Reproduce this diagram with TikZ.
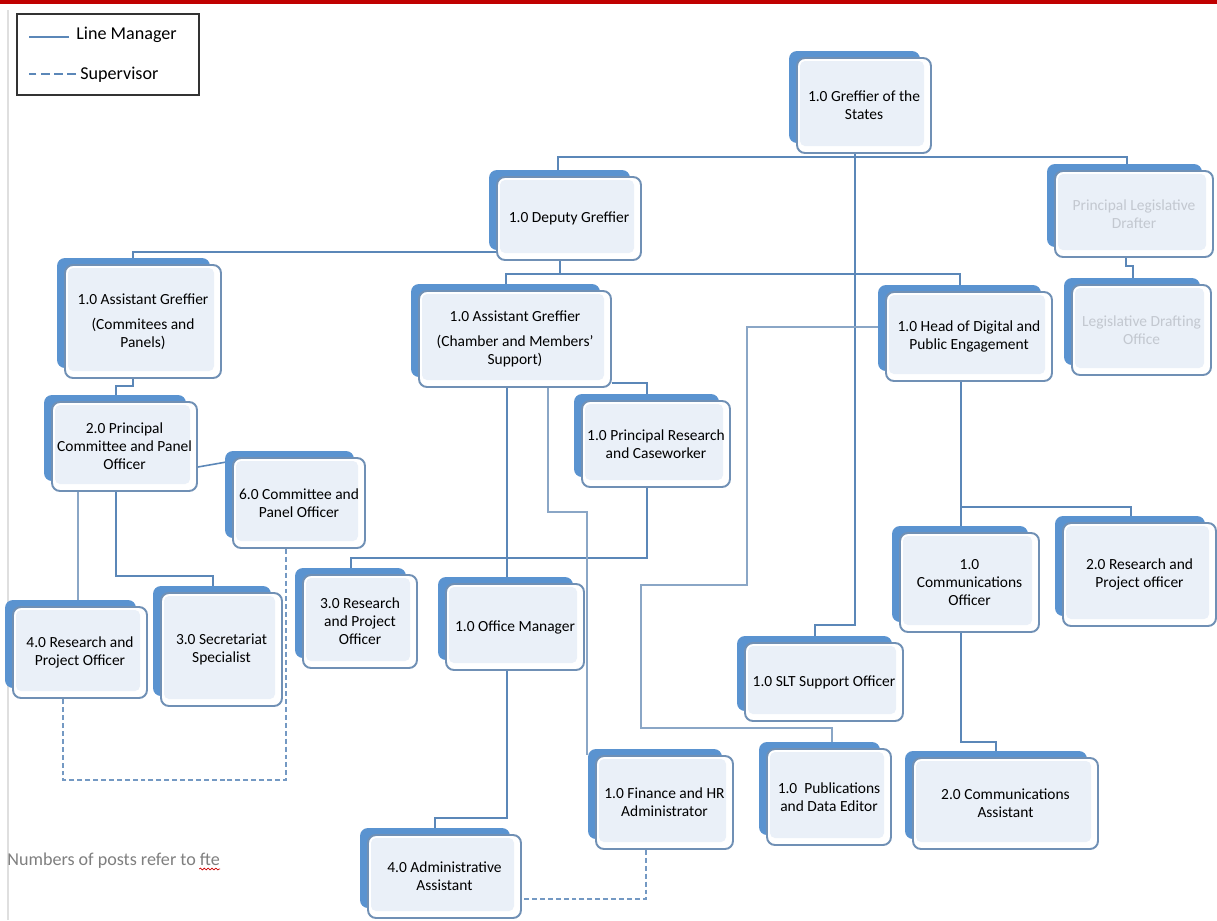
\documentclass[tikz,border=0pt]{standalone}
\usepackage{fontspec}
\setmainfont{Carlito}
\usetikzlibrary{calc,decorations.pathmorphing}
\pgfdeclarelayer{background}
\pgfsetlayers{background,main}
\definecolor{backblue}{HTML}{5A93D0}
\definecolor{frontline}{HTML}{7090B5}
\definecolor{innerfill}{HTML}{EAF0F8}
\definecolor{linkblue}{HTML}{5B87B8}
\definecolor{thinblue}{HTML}{8AA6C6}
\definecolor{fadetext}{HTML}{C3C8D0}
\definecolor{topred}{HTML}{C00000}
\definecolor{notegray}{HTML}{7F7F7F}
\newcommand\boxfont{\fontsize{8.8pt}{10.2pt}\selectfont}
\newcommand\legfont{\fontsize{10.3pt}{12pt}\selectfont}
\tikzset{
  frontbox/.style={draw=frontline, line width=1.1pt, rounded corners=0.16cm,
    inner sep=0pt, align=center, font=\boxfont, text=black},
  lm/.style={draw=linkblue, line width=1.4pt},
  thinlink/.style={draw=thinblue, line width=0.6pt},
  sup/.style={draw=linkblue!85, line width=0.7pt, dash pattern=on 2.8pt off 1.7pt},
  legdash/.style={draw=linkblue, line width=1.4pt, dash pattern=on 5pt off 2.5pt},
}
% #1 extra node style, #2 name, #3 x1, #4 y1, #5 x2, #6 y2, #7 text
\newcommand\obox[7][]{%
  \fill[backblue,rounded corners=0.16cm] ({#3-8},{#4-7}) rectangle ({#5-11},{#6-10});
  \fill[white,rounded corners=0.16cm] (#3,#4) rectangle (#5,#6);
  \fill[innerfill,rounded corners=0.1cm] ({#3+3},{#4+3}) rectangle ({#5-7},{#6-7});
  \node[frontbox,#1,minimum width={(#5-#3)*0.02cm},minimum height={(#6-#4)*0.02cm}]
    (#2) at ({(#3+#5)/2},{(#4+#6)/2}) {#7};
}
\begin{document}
\begin{tikzpicture}[x=0.02cm,y=-0.02cm]
\useasboundingbox (0,0) rectangle (1217,920);
\begin{pgfonlayer}{background}
\fill[white] (0,0) rectangle (1217,920);
\draw[gray!25, line width=0.6pt] (8,10) -- (8,920);
\end{pgfonlayer}
\fill[topred] (0,0) rectangle (1217,4);

% legend
\node[draw=black!80, line width=0.6pt, minimum width=3.64cm, minimum height=1.62cm, inner sep=0pt] (legend) at (108,54.5) {};
\node[anchor=base west, font=\legfont, inner sep=0pt] (lmtxt) at (76,39) {Line Manager};
\node[anchor=base west, font=\legfont, inner sep=0pt] (suptxt) at (80,79) {Supervisor};
\draw[lm, line width=1.5pt] ($(lmtxt.base west)+(-7,-2)$) -- ++(-40,0);
\draw[legdash] ($(suptxt.base west)+(-4,-5)$) -- ++(-47,0);

% boxes
\obox{gs}{797}{58}{931}{153}{1.0 Greffier of the\\States}
\obox{dep}{497}{177}{641}{260}{1.0 Deputy Greffier}
\obox[text=fadetext]{ld}{1055}{171}{1213}{257}{Principal Legislative\\Drafter}
\obox[text=fadetext]{ldo}{1072}{285}{1211}{375}{Legislative Drafting\\Office}
\obox{hd}{886}{292}{1052}{381}{1.0 Head of Digital and\\Public Engagement}
\obox{agc}{65}{265}{221}{378}{1.0 Assistant Greffier\\[0.14cm](Commitees and\\Panels)}
\obox{agm}{419}{291}{611}{387}{1.0 Assistant Greffier\\[0.14cm](Chamber and Members'\\Support)}
\obox{pcpo}{52}{402}{197}{491}{2.0 Principal\\Committee and Panel\\Officer}
\obox{cpo}{233}{458}{365}{548}{6.0 Committee and\\Panel Officer}
\obox{pr}{582}{401}{730}{487}{1.0 Principal Research\\and Caseworker}
\obox{rpofour}{13}{607}{147}{698}{4.0 Research and\\Project Officer}
\obox{ss}{161}{593}{282}{706}{3.0 Secretariat\\Specialist}
\obox{rpothree}{303}{575}{417}{668}{3.0 Research\\and Project\\Officer}
\obox{om}{446}{584}{584}{670}{1.0 Office Manager}
\obox{co}{900}{533}{1039}{632}{1.0\\Communications\\Officer}
\obox{rpotwo}{1063}{523}{1216}{626}{2.0 Research and\\Project officer}
\obox{slt}{745}{643}{903}{721}{1.0 SLT Support Officer}
\obox{fin}{596}{756}{733}{849}{1.0 Finance and HR\\Administrator}
\obox{pub}{767}{749}{891}{845}{1.0\ \ Publications\\and Data Editor}
\obox{ca}{913}{758}{1098}{849}{2.0 Communications\\Assistant}
\obox{aa}{368}{835}{521}{918}{4.0 Administrative\\Assistant}

% note
\node[anchor=base west, font=\legfont, text=notegray, inner sep=0pt] (note) at (7,865) {Numbers of posts refer to fte};
\draw[red!80!black, line width=0.4pt, decorate, decoration={snake, amplitude=0.5pt, segment length=2.2pt}]
  ($(note.base east)+(-21,4)$) -- ($(note.base east)+(0,4)$);

% junctions
\coordinate (depjoin) at (560,274);
\coordinate (hdjoin) at (961,507);
\coordinate (gsjoin) at (855,157);

% connectors
\begin{pgfonlayer}{background}
\draw[lm] (gs.south -| 855,0) -- (gsjoin);
\draw[lm] (gsjoin) -- (855,625) -- (815,625) -- (slt.north -| 815,0);
\draw[lm] (dep.north -| 558,0) -- (558,157) -- (1127,157) -- (ld.north -| 1127,0);
\draw[lm] (dep.west |- 0,252) -- (133,252) -- (agc.north -| 133,0);
\draw[lm] (dep.south -| 560,0) -- (depjoin);
\draw[lm] (agm.north -| 506,0) -- (506,274) -- (960,274) -- (hd.north -| 960,0);
\draw[lm] (ld.south -| 1126,0) -- (1126,266) -- (1133,266) -- (ldo.north -| 1133,0);
\draw[lm] (agc.south -| 133,0) -- (133,386) -- (116,386) -- (pcpo.north -| 116,0);
\draw[lm, line width=0.9pt] (pcpo.east |- 0,467) -- (cpo.west |- 0,461);
\draw[thinlink] (pcpo.south -| 78,0) -- (rpofour.north -| 78,0);
\draw[lm] (pcpo.south -| 116,0) -- (116,576) -- (213,576) -- (ss.north -| 213,0);
\draw[sup] (cpo.south -| 286,0) -- (286,780) -- (63,780) -- (rpofour.south -| 63,0);
\draw[lm] (agm.east |- 0,383) -- (647,383) -- (pr.north -| 647,0);
\draw[lm] (pr.south -| 647,0) -- (647,558) -- (351,558) -- (rpothree.north -| 351,0);
\draw[lm] (agm.south -| 507,0) -- (om.north -| 507,0);
\draw[thinlink] (agm.south -| 548,0) -- (548,512) -- (587,512) -- (fin.north -| 587,0);
\draw[lm] (om.south -| 507,0) -- (507,818) -- (435,818) -- (aa.north -| 435,0);
\draw[sup] (fin.south -| 646,0) -- (646,899) -- (aa.east |- 0,899);
\draw[thinlink] (hd.west |- 0,327) -- (747,327) -- (747,585) -- (641,585) -- (641,728) -- (832,728) -- (pub.north -| 832,0);
\draw[lm] (hd.south -| 961,0) -- (co.north -| 961,0);
\draw[lm] (hdjoin) -- (1131,507) -- (rpotwo.north -| 1131,0);
\draw[lm] (co.south -| 961,0) -- (961,742) -- (996,742) -- (ca.north -| 996,0);
\end{pgfonlayer}
\end{tikzpicture}
\end{document}
